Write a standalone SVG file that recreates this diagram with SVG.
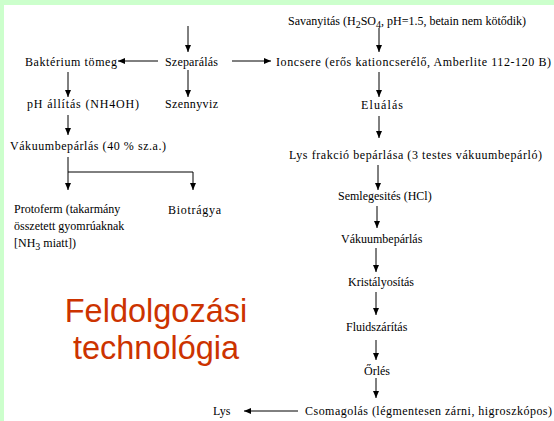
<svg xmlns="http://www.w3.org/2000/svg" width="554" height="421" viewBox="0 0 554 421">
<defs>
<marker id="ah" markerUnits="userSpaceOnUse" markerWidth="7" markerHeight="6" refX="7" refY="3" orient="auto">
<path d="M0,0 L7,3 L0,6 z" fill="#000"/>
</marker>
<style>
.t{font-family:"Liberation Serif",serif;font-size:12px;fill:#000}
.c{stroke:#000;stroke-width:1;fill:none}
.a{marker-end:url(#ah)}
.title{font-family:"Liberation Sans",Arial,sans-serif;font-size:32.5px;fill:#cc3300;text-anchor:middle}
</style>
</defs>
<rect width="554" height="421" fill="#fff"/>
<rect x="0" y="0" width="554" height="5" fill="#ccffcc"/>
<rect x="0" y="0" width="4" height="421" fill="#ccffcc"/>
<g id="connectors">
<path class="c a" d="M188,26 V52"/>
<path class="c a" d="M158,61 H118"/>
<path class="c a" d="M232,61 H271"/>
<path class="c a" d="M188,70 V97"/>
<path class="c a" d="M68,72 V97"/>
<path class="c a" d="M68,115 V135"/>
<path class="c a" d="M68,157 V190"/>
<path class="c" d="M68,172 H193"/>
<path class="c a" d="M193,172 V190"/>
<path class="c a" d="M379,28 V52"/>
<path class="c a" d="M379,72 V97"/>
<path class="c a" d="M379,116 V138"/>
<path class="c a" d="M378,165 V190"/>
<path class="c a" d="M377,206 V228"/>
<path class="c a" d="M376,248 V272"/>
<path class="c a" d="M376,292 V315"/>
<path class="c a" d="M376,340 V360"/>
<path class="c a" d="M376,378 V398"/>
<path class="c a" d="M298,411 H244"/>
</g>
<g id="n-savanyitas"><text class="t" x="288" y="25">Savanyitás (H<tspan dy="3" font-size="10">2</tspan><tspan dy="-3">SO</tspan><tspan dy="3" font-size="10">4</tspan><tspan dy="-3">, pH=1.5, betain nem kötődik)</tspan></text></g>
<g id="n-szeparalas"><text class="t" x="165" y="66" textLength="53">Szeparálás</text></g>
<g id="n-bakterium"><text class="t" x="25" y="66" textLength="92">Baktérium tömeg</text></g>
<g id="n-ioncsere"><text class="t" x="276" y="66" textLength="275">Ioncsere (erős kationcserélő, Amberlite 112-120 B)</text></g>
<g id="n-ph"><text class="t" x="27" y="108" textLength="112">pH állítás (NH4OH)</text></g>
<g id="n-szennyviz"><text class="t" x="165" y="108" textLength="53">Szennyviz</text></g>
<g id="n-eluálás"><text class="t" x="361" y="109" textLength="42">Eluálás</text></g>
<g id="n-vakuum40"><text class="t" x="10" y="150" textLength="156">Vákuumbepárlás (40 % sz.a.)</text></g>
<g id="n-lysfrakcio"><text class="t" x="289" y="159" textLength="253">Lys frakció bepárlása (3 testes vákuumbepárló)</text></g>
<g id="n-protoferm"><text class="t" x="14" y="213">Protoferm (takarmány</text><text class="t" x="14" y="230">összetett gyomrúaknak</text><text class="t" x="14" y="247">[NH<tspan dy="3" font-size="10">3</tspan><tspan dy="-3"> miatt])</tspan></text></g>
<g id="n-biotragya"><text class="t" x="168" y="214" textLength="53">Biotrágya</text></g>
<g id="n-semleg"><text class="t" x="338" y="200">Semlegesités (HCl)</text></g>
<g id="n-vakuum"><text class="t" x="341" y="243">Vákuumbepárlás</text></g>
<g id="n-kristaly"><text class="t" x="348" y="286">Kristályosítás</text></g>
<g id="n-fluid"><text class="t" x="346" y="331">Fluidszárítás</text></g>
<g id="n-orles"><text class="t" x="364" y="375">Őrlés</text></g>
<g id="n-csomag"><text class="t" x="305" y="415" textLength="247">Csomagolás (légmentesen zárni, higroszkópos)</text></g>
<g id="n-lys"><text class="t" x="213" y="415">Lys</text></g>
<g id="title"><text class="title" x="156" y="322">Feldolgozási</text><text class="title" x="156" y="359">technológia</text></g>
</svg>
